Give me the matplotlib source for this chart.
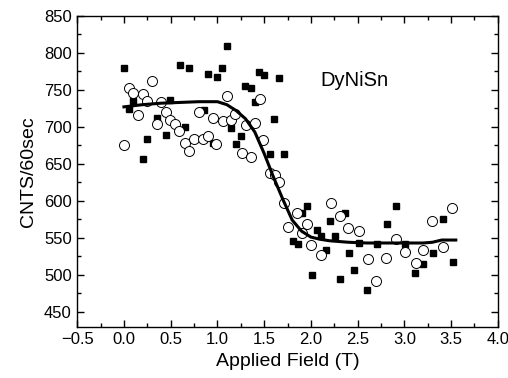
import matplotlib
matplotlib.use("Agg")
import matplotlib.pyplot as plt
from matplotlib.ticker import MultipleLocator

plt.rcParams['font.family'] = ['Liberation Sans', 'DejaVu Sans']

# filled squares
sq_x = [0.00, 0.60, 0.70, 1.10, 0.90, 1.00, 1.05, 1.45, 1.50, 1.66, 1.30, 1.36, 1.40,
        0.10, 0.49, 0.05, 0.35, 0.65, 0.45, 0.25, 0.20, 0.86, 1.15, 1.25, 1.20, 0.95,
        1.61, 1.56, 1.71, 1.96, 1.91, 2.36, 2.91, 2.20, 2.81, 3.41, 2.06, 2.11, 2.26,
        1.81, 1.86, 2.51, 2.71, 3.01, 2.16, 2.41, 3.31, 3.20, 3.52, 2.46, 3.11, 2.01,
        2.31, 2.60]
sq_y = [779, 783, 779, 809, 772, 768, 779, 774, 770, 766, 755, 752, 733,
        735, 736, 724, 712, 700, 689, 683, 657, 723, 699, 688, 677, 678,
        710, 663, 663, 593, 584, 584, 593, 573, 568, 575, 561, 553, 552,
        546, 541, 543, 542, 541, 533, 530, 530, 514, 517, 507, 503, 500,
        495, 479]

# open circles
ci_x = [0.30, 0.05, 0.10, 0.20, 0.25, 0.40, 1.10, 1.46, 0.15, 0.45, 0.80, 0.49, 0.55,
        0.59, 0.35, 0.95, 1.06, 1.15, 1.19, 1.31, 1.40, 0.00, 0.65, 0.75, 0.85, 0.90,
        0.99, 0.70, 1.26, 1.36, 1.49, 1.56, 1.62, 1.66, 1.71, 1.85, 1.76, 1.96, 1.90,
        2.21, 2.31, 2.40, 2.51, 2.00, 2.11, 2.61, 2.80, 2.91, 3.01, 3.20, 3.12, 2.70,
        3.30, 3.41, 3.51]
ci_y = [762, 752, 746, 745, 735, 733, 742, 737, 716, 720, 720, 709, 704,
        695, 704, 712, 708, 709, 718, 702, 705, 676, 678, 684, 684, 687,
        677, 667, 664, 659, 682, 638, 635, 626, 597, 584, 565, 568, 557,
        597, 580, 563, 559, 540, 527, 522, 523, 548, 531, 533, 516, 492,
        573, 537, 590]

# fit curve
fit_x = [0.0, 0.2, 0.4, 0.6, 0.8, 1.0, 1.1, 1.2, 1.3, 1.4, 1.5, 1.6, 1.7, 1.8,
         1.9, 2.0, 2.1, 2.2, 2.4, 2.6, 2.8, 3.0, 3.2, 3.3, 3.4, 3.55]
fit_y = [727, 730, 732, 733, 734, 734, 730, 722, 711, 693, 664, 632, 602, 574,
         559, 551, 548, 546, 544, 543, 543, 543, 543, 544, 547, 547]

fig = plt.figure(figsize=(5.08, 3.78), dpi=100)
ax = fig.add_axes([0.152, 0.136, 0.828, 0.822])

ax.plot(sq_x, sq_y, 's', color='black', markersize=3.8, zorder=2)
ax.plot(ci_x, ci_y, 'o', markerfacecolor='white', markeredgecolor='black',
        markeredgewidth=0.7, markersize=7.2, zorder=3)
ax.plot(fit_x, fit_y, '-', color='black', linewidth=2.2, zorder=4)

ax.text(2.1, 763, 'DyNiSn', fontsize=14.5, va='center', ha='left')

ax.set_xlim(-0.5, 4.0)
ax.set_ylim(430, 850)
ax.xaxis.set_major_locator(MultipleLocator(0.5))
ax.xaxis.set_minor_locator(MultipleLocator(0.25))
ax.yaxis.set_minor_locator(MultipleLocator(25))
ax.set_yticks(range(450, 851, 50))
ax.tick_params(which='both', direction='in', top=True, right=True, labelsize=12)
ax.tick_params(which='major', length=5, width=1, pad=4)
ax.tick_params(which='minor', length=3, width=1)
for s in ax.spines.values():
    s.set_linewidth(1)

ax.set_xlabel('Applied Field (T)', fontsize=14, labelpad=4)
ax.set_ylabel('CNTS/60sec', fontsize=14, labelpad=5)

fig.savefig('out.png', dpi=100)
